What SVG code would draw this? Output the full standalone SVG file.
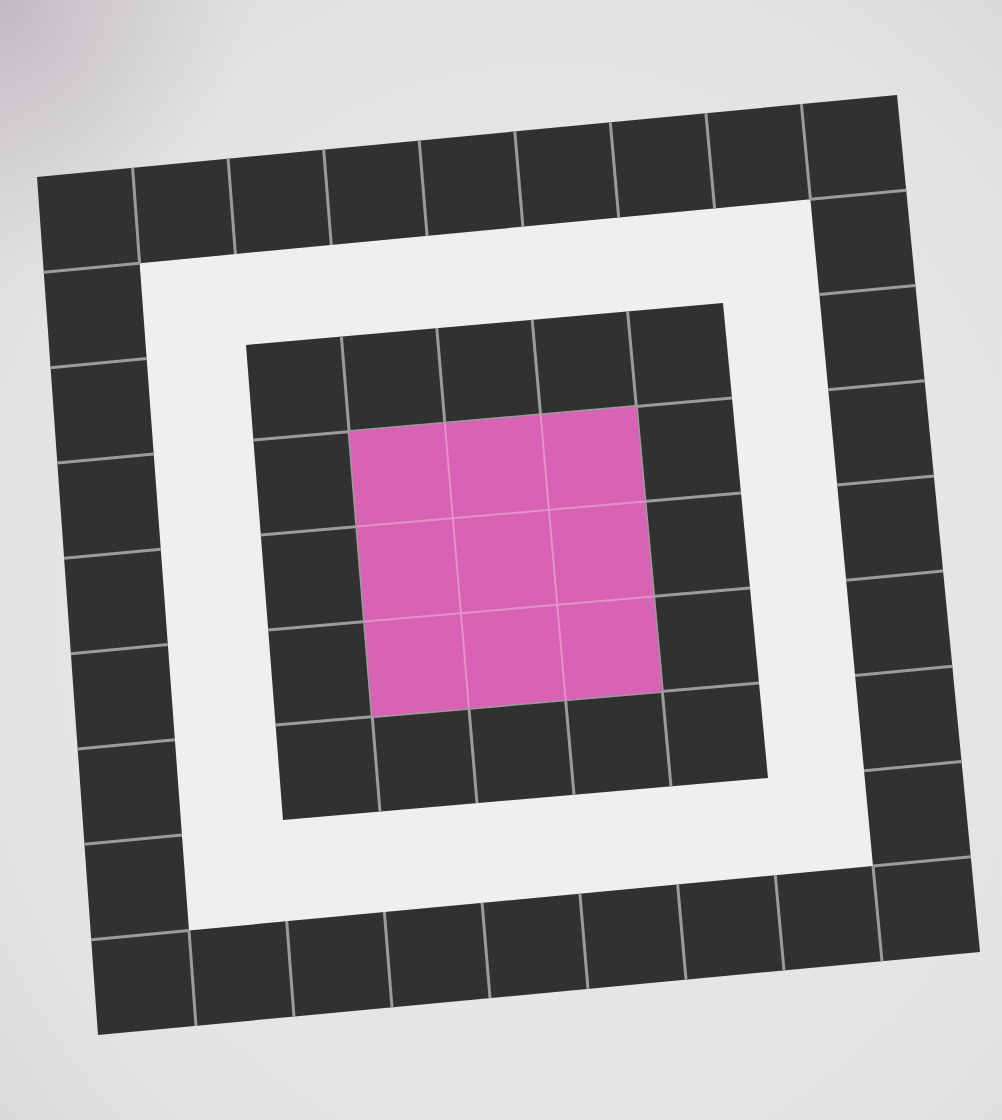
<svg xmlns="http://www.w3.org/2000/svg" width="1002" height="1120" viewBox="0 0 1002 1120">
<defs>
<radialGradient id="paper" cx="0.55" cy="0.55" r="0.8">
<stop offset="0" stop-color="#ecebea"/>
<stop offset="0.7" stop-color="#e4e3e2"/>
<stop offset="1" stop-color="#d6d4d6"/>
</radialGradient>
<radialGradient id="shade" cx="0" cy="0" r="0.25">
<stop offset="0" stop-color="#b9b3bb" stop-opacity="0.8"/>
<stop offset="1" stop-color="#c9c4cb" stop-opacity="0"/>
</radialGradient>
<style>
.tile{fill:#313131}
.grout{stroke:#9c9c9a;stroke-width:3;fill:none;stroke-linecap:butt}
.pink{fill:#d862b4}
.pgrout{stroke:#e591cb;stroke-width:2;fill:none}
</style>
</defs>
<rect width="1002" height="1120" fill="url(#paper)"/>
<rect width="1002" height="1120" fill="url(#shade)"/>
<polygon points="139.6,263.2 810.4,199.3 873,866 189,930.5" fill="#efefee"/>
<g id="outer-ring">
<path class="tile" fill-rule="evenodd" d="M37,177 L897,95 L980,952 L98,1035 Z M139.6,263.2 L189,930.5 L873,866 L810.4,199.3 Z"/>
<g class="grout">
<line x1="132.6" y1="167.9" x2="139.6" y2="263.2"/>
<line x1="228.1" y1="158.8" x2="235.4" y2="254.1"/>
<line x1="323.7" y1="149.7" x2="331.3" y2="245"/>
<line x1="419.2" y1="140.6" x2="427.1" y2="235.8"/>
<line x1="514.8" y1="131.4" x2="522.9" y2="226.7"/>
<line x1="610.3" y1="122.3" x2="618.7" y2="217.6"/>
<line x1="705.9" y1="113.2" x2="714.6" y2="208.5"/>
<line x1="801.4" y1="104.1" x2="810.4" y2="199.3"/>
<line x1="189" y1="930.5" x2="196" y2="1025.8"/>
<line x1="286.7" y1="921.2" x2="294" y2="1016.6"/>
<line x1="384.4" y1="912" x2="392" y2="1007.3"/>
<line x1="482.1" y1="902.8" x2="490" y2="998.1"/>
<line x1="579.9" y1="893.6" x2="588" y2="988.9"/>
<line x1="677.6" y1="884.4" x2="686" y2="979.7"/>
<line x1="775.3" y1="875.2" x2="784" y2="970.4"/>
<line x1="873" y1="866" x2="882" y2="961.2"/>
<line x1="43.8" y1="272.3" x2="139.6" y2="263.2"/>
<line x1="50.6" y1="367.7" x2="146.7" y2="358.5"/>
<line x1="57.3" y1="463" x2="153.7" y2="453.9"/>
<line x1="64.1" y1="558.3" x2="160.8" y2="549.2"/>
<line x1="70.9" y1="653.7" x2="167.8" y2="644.5"/>
<line x1="77.7" y1="749" x2="174.8" y2="739.8"/>
<line x1="84.4" y1="844.3" x2="181.9" y2="835.1"/>
<line x1="91.2" y1="939.7" x2="189" y2="930.5"/>
<line x1="810.4" y1="199.3" x2="906.2" y2="190.2"/>
<line x1="819.3" y1="294.6" x2="915.4" y2="285.4"/>
<line x1="828.3" y1="389.8" x2="924.7" y2="380.7"/>
<line x1="837.2" y1="485" x2="933.9" y2="475.9"/>
<line x1="846.2" y1="580.3" x2="943.1" y2="571.1"/>
<line x1="855.1" y1="675.5" x2="952.3" y2="666.3"/>
<line x1="864.1" y1="770.8" x2="961.6" y2="761.6"/>
<line x1="873" y1="866" x2="970.8" y2="856.8"/>
</g>
</g>
<g id="inner-block">
<polygon class="tile" points="246,345 723,303 768,778 283,820"/>
<g class="grout">
<line x1="341.4" y1="336.6" x2="380" y2="811.6"/>
<line x1="436.8" y1="328.2" x2="477" y2="803.2"/>
<line x1="532.2" y1="319.8" x2="574" y2="794.8"/>
<line x1="627.6" y1="311.4" x2="671" y2="786.4"/>
<line x1="253.4" y1="440" x2="732" y2="398"/>
<line x1="260.8" y1="535" x2="741" y2="493"/>
<line x1="268.2" y1="630" x2="750" y2="588"/>
<line x1="275.6" y1="725" x2="759" y2="683"/>
</g>
<polygon class="pink" points="349.1,431.6 636.3,406.4 662.3,691.4 372.3,716.6"/>
<g class="pgrout">
<line x1="444.8" y1="423.2" x2="469" y2="708.2"/>
<line x1="540.6" y1="414.8" x2="565.6" y2="699.8"/>
<line x1="356.8" y1="526.6" x2="645" y2="501.4"/>
<line x1="364.6" y1="621.6" x2="653.6" y2="596.4"/>
</g>
</g>
</svg>
